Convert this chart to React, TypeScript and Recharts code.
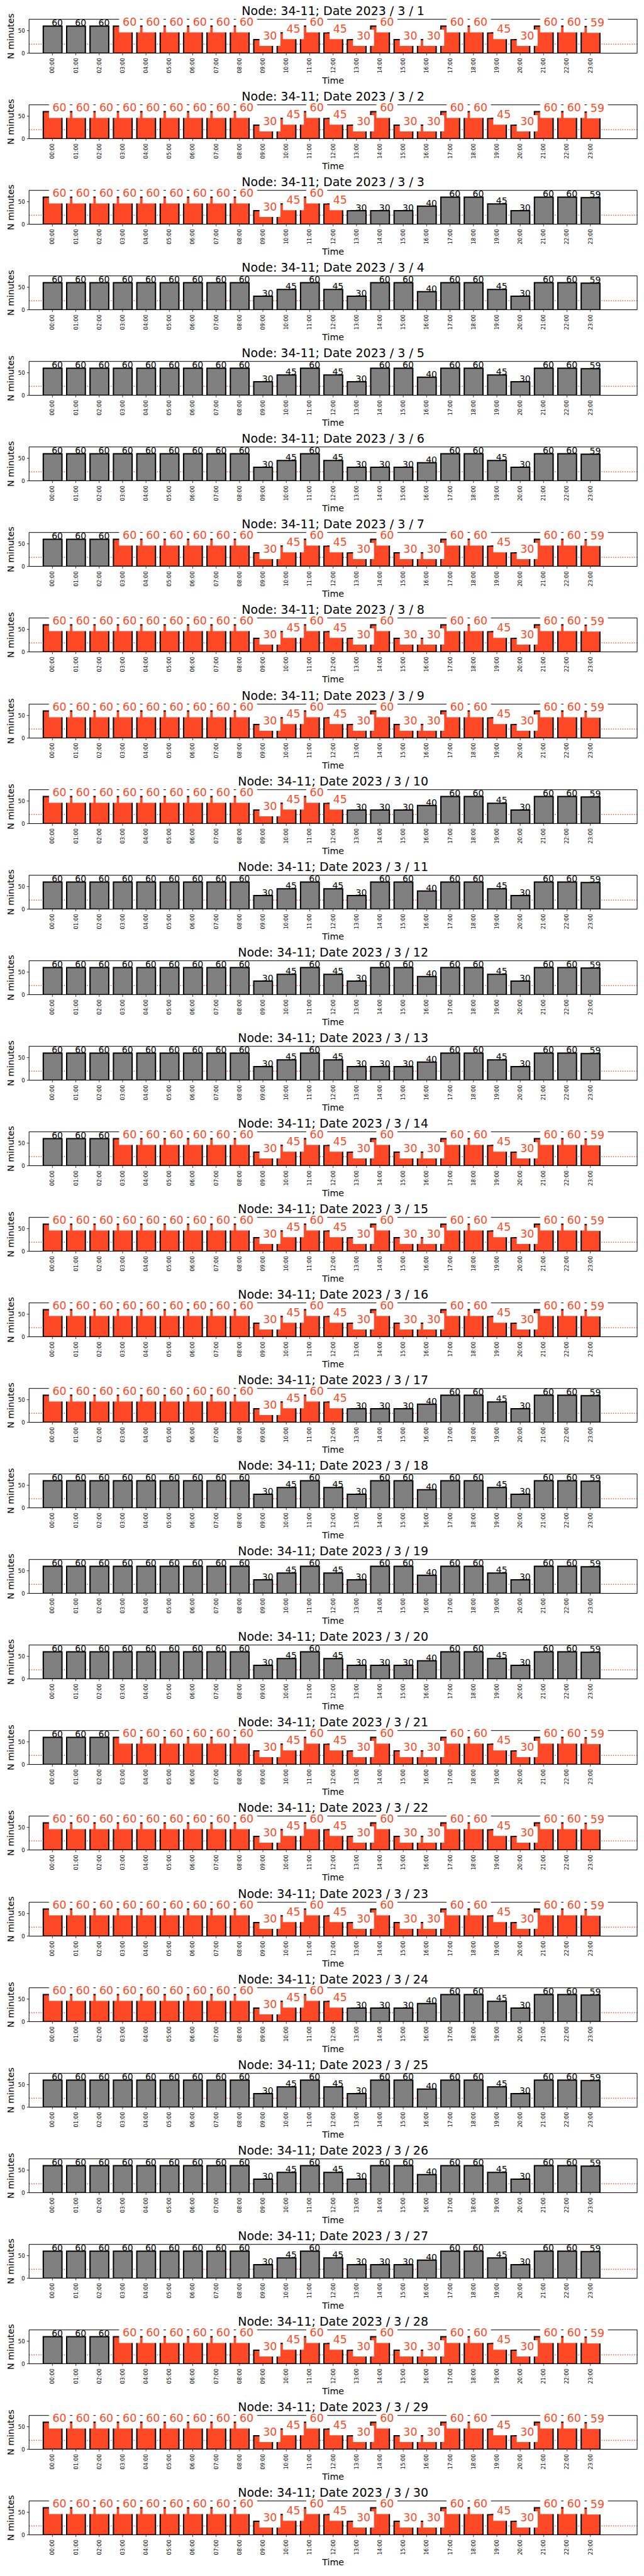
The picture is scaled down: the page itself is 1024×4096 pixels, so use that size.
import { Bar, BarChart, CartesianGrid, Cell, LabelList, XAxis, YAxis } from "recharts";

// hour categories on the x axis
const HOURS = [
  "00:00", "01:00", "02:00", "03:00", "04:00", "05:00", "06:00", "07:00",
  "08:00", "09:00", "10:00", "11:00", "12:00", "13:00", "14:00", "15:00",
  "16:00", "17:00", "18:00", "19:00", "20:00", "21:00", "22:00", "23:00",
];

// minutes per hour (three recurring day shapes)
const MIDWEEK_MINUTES = [60, 60, 60, 60, 60, 60, 60, 60, 60, 30, 45, 60, 45, 30, 60, 30, 30, 60, 60, 45, 30, 60, 60, 59];
const WEEKEND_MINUTES = [60, 60, 60, 60, 60, 60, 60, 60, 60, 30, 45, 60, 45, 30, 60, 60, 40, 60, 60, 45, 30, 60, 60, 59];
const MON_FRI_MINUTES = [60, 60, 60, 60, 60, 60, 60, 60, 60, 30, 45, 60, 45, 30, 30, 30, 40, 60, 60, 45, 30, 60, 60, 59];

const PROFILES: Record<string, number[]> = {
  mid: MIDWEEK_MINUTES,
  wkd: WEEKEND_MINUTES,
  mf: MON_FRI_MINUTES,
};

// March 2023, day 1..30
const DAYS = [
  1, 2, 3, 4, 5, 6, 7, 8, 9, 10, 11, 12, 13, 14, 15,
  16, 17, 18, 19, 20, 21, 22, 23, 24, 25, 26, 27, 28, 29, 30,
];
const DAY_PROFILE = [
  "mid", "mid", "mf", "wkd", "wkd", "mf", "mid",
  "mid", "mid", "mf", "wkd", "wkd", "mf", "mid",
  "mid", "mid", "mf", "wkd", "wkd", "mf", "mid",
  "mid", "mid", "mf", "wkd", "wkd", "mf", "mid",
  "mid", "mid",
];
// first and last highlighted (red) hour of each day, null = none
const RED_HOURS: ([number, number] | null)[] = [
  [3, 23], [0, 23], [0, 12], null, null, null, [3, 23],
  [0, 23], [0, 23], [0, 12], null, null, null, [3, 23],
  [0, 23], [0, 23], [0, 12], null, null, null, [3, 23],
  [0, 23], [0, 23], [0, 12], null, null, null, [3, 23],
  [0, 23], [0, 23],
];

const Y_TICKS = [0, 50];
const THRESHOLD = 20;

const W = 1023;
const H = 136;
const PITCH = 136.07;
const PLOT_LEFT = 46.2;
const PLOT_RIGHT = 1013.1;
const PLOT_TOP = 30.7;
const PLOT_BOTTOM = 84.57;

const RED = "#ff4826";
const GRAY = "#808080";
const FONT = '"DejaVu Sans", sans-serif';

function buildRows(dayIndex: number) {
  const values = PROFILES[DAY_PROFILE[dayIndex]];
  const range = RED_HOURS[dayIndex];
  return HOURS.map((label, i) => {
    const red = range != null && i >= range[0] && i <= range[1];
    return {
      x: i,
      label,
      minutes: values[i],
      red,
      redLabel: red ? values[i] : null,
      grayLabel: red ? null : values[i],
    };
  });
}

function barBox(props: any) {
  const vb = props.viewBox && props.viewBox.width != null ? props.viewBox : props;
  const top = Math.min(vb.y, vb.y + vb.height);
  return { cx: vb.x + vb.width / 2, top };
}

function GrayValue(props: any) {
  if (props.value == null) return null;
  const { cx, top } = barBox(props);
  return (
    <text x={cx + 7.4} y={top} textAnchor="middle" fontSize={14} fill="#000" fontFamily={FONT}>
      {props.value}
    </text>
  );
}

// highlighted hours: bigger red value on a white box
function RedValue(props: any) {
  if (props.value == null) return null;
  const { cx, top } = barBox(props);
  return (
    <g>
      <rect x={cx - 5.8} y={top - 16} width={33.4} height={26} fill="#fff" />
      <text x={cx + 10.9} y={top} textAnchor="middle" fontSize={17.4} fill={RED} fontFamily={FONT}>
        {props.value}
      </text>
    </g>
  );
}

function HourTick({ x, y, payload }: any) {
  return (
    <text
      x={x}
      y={y}
      transform={`rotate(-90 ${x} ${y})`}
      textAnchor="end"
      dy="0.35em"
      fontSize={8.5}
      fill="#000"
      fontFamily={FONT}
    >
      {HOURS[payload.value]}
    </text>
  );
}

function DayPanel({ dayIndex }: { dayIndex: number }) {
  const rows = buildRows(dayIndex);
  const midX = (PLOT_LEFT + PLOT_RIGHT) / 2;

  return (
    <div style={{ position: "absolute", left: 0, top: dayIndex * PITCH, width: W, height: H }}>
      <BarChart
        width={W}
        height={H}
        data={rows}
        margin={{ top: PLOT_TOP, right: W - PLOT_RIGHT, bottom: 0, left: 0 }}
      >
        <CartesianGrid
          horizontalValues={[THRESHOLD]}
          vertical={false}
          stroke={RED}
          strokeWidth={1.4}
          strokeDasharray="1.4 2.3"
        />
        <CartesianGrid
          horizontalValues={[0, 75]}
          verticalValues={[-1, 25]}
          stroke="#000"
          strokeWidth={1}
        />
        <XAxis
          type="number"
          dataKey="x"
          domain={[-1, 25]}
          allowDataOverflow
          ticks={rows.map((r) => r.x)}
          interval={0}
          tick={<HourTick />}
          tickSize={3.3}
          tickMargin={4.2}
          tickLine={{ stroke: "#000", strokeWidth: 0.8 }}
          axisLine={false}
          height={H - PLOT_BOTTOM}
        />
        <YAxis
          type="number"
          domain={[0, 75]}
          allowDataOverflow
          ticks={Y_TICKS}
          interval={0}
          width={PLOT_LEFT}
          tick={{ fontSize: 8.5, fill: "#000", fontFamily: FONT }}
          tickSize={3.3}
          tickMargin={3.3}
          tickLine={{ stroke: "#000", strokeWidth: 0.8 }}
          axisLine={false}
        />
        <Bar dataKey="minutes" barSize={29.75} stroke="#000" strokeWidth={2} isAnimationActive={false}>
          {rows.map((r) => (
            <Cell key={r.label} fill={r.red ? RED : GRAY} />
          ))}
          <LabelList dataKey="grayLabel" content={<GrayValue />} />
          <LabelList dataKey="redLabel" content={<RedValue />} />
        </Bar>
      </BarChart>

      <svg
        width={W}
        height={H}
        style={{ position: "absolute", left: 0, top: 0, pointerEvents: "none" }}
        fontFamily={FONT}
      >
        <text x={midX} y={24} textAnchor="middle" fontSize={19} fill="#000">
          {`Node: 34-11; Date 2023 / 3 / ${DAYS[dayIndex]}`}
        </text>
        <text
          x={22.2}
          y={(PLOT_TOP + PLOT_BOTTOM) / 2}
          transform={`rotate(-90 22.2 ${(PLOT_TOP + PLOT_BOTTOM) / 2})`}
          textAnchor="middle"
          fontSize={14.2}
          fill="#000"
        >
          N minutes
        </text>
        <text x={midX} y={132.5} textAnchor="middle" fontSize={14.2} fill="#000">
          Time
        </text>
      </svg>
    </div>
  );
}

export default function App() {
  return (
    <div
      style={{
        position: "absolute",
        left: 0,
        top: 0,
        width: W,
        height: 4096,
        background: "#fff",
        fontFamily: FONT,
      }}
    >
      {DAYS.map((d, i) => (
        <DayPanel key={d} dayIndex={i} />
      ))}
    </div>
  );
}
